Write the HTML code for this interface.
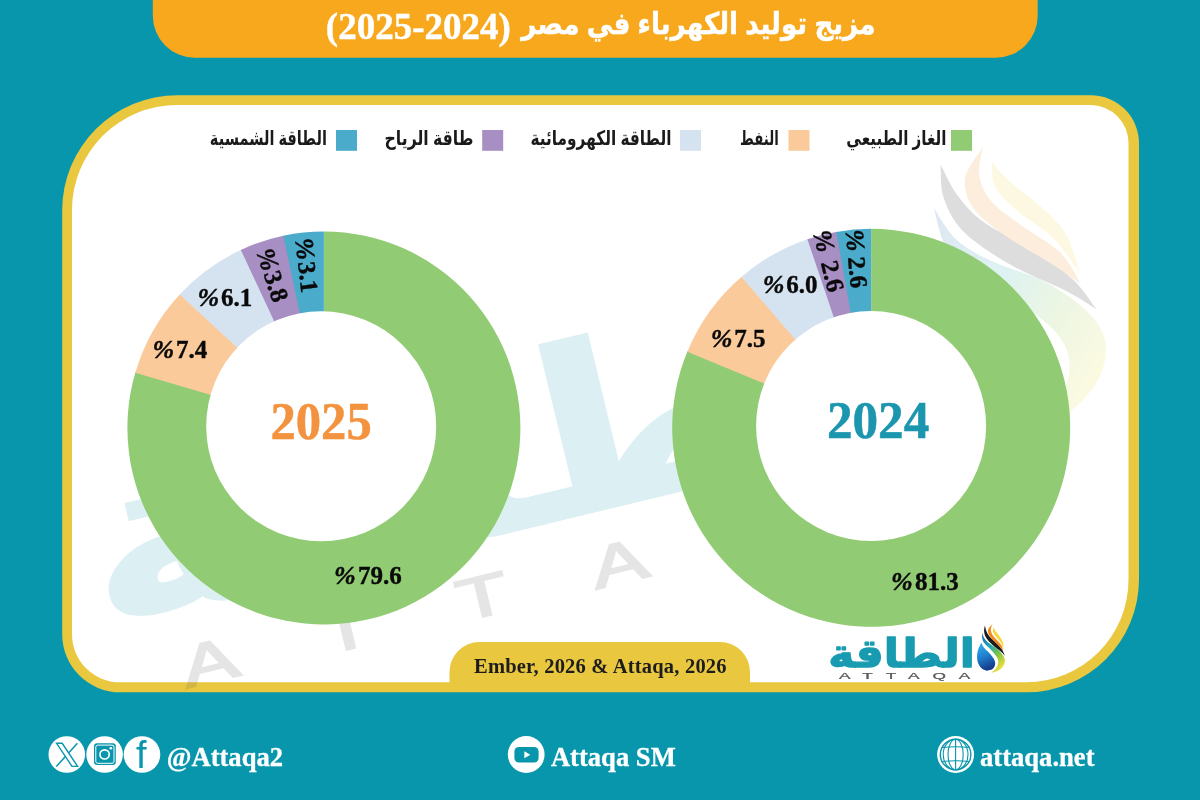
<!DOCTYPE html>
<html lang="ar"><head><meta charset="utf-8"><title>مزيج توليد الكهرباء في مصر (2024-2025)</title>
<style>html,body{margin:0;padding:0;background:#0896AC;width:1200px;height:800px;overflow:hidden}svg{display:block}</style></head>
<body>
<svg width="1200" height="800" viewBox="0 0 1200 800">
<defs>
<linearGradient id="gdrop" x1="0" y1="0" x2="0.3" y2="1"><stop offset="0" stop-color="#35B3EE"/><stop offset="0.55" stop-color="#1F7FD0"/><stop offset="1" stop-color="#173E8C"/></linearGradient>
<linearGradient id="gsw" x1="0" y1="0" x2="0.6" y2="1"><stop offset="0" stop-color="#1B5FA8"/><stop offset="0.4" stop-color="#22A9B4"/><stop offset="0.7" stop-color="#7CC344"/><stop offset="1" stop-color="#E8DE3A"/></linearGradient>
</defs>
<rect width="1200" height="800" fill="#0896AC"/>
<path d="M152.8,-50 H1037.7 A0,0 0 0 1 1037.7,-50 V15.799999999999997 A42,42 0 0 1 995.7,57.8 H194.8 A42,42 0 0 1 152.8,15.799999999999997 V-50 A0,0 0 0 1 152.8,-50 Z" fill="#F8A81C"/>
<path d="M177.2,95.3 H1091 A48,48 0 0 1 1139,143.3 V579.3 A113,113 0 0 1 1026,692.3 H120.2 A58,58 0 0 1 62.2,634.3 V210.3 A115,115 0 0 1 177.2,95.3 Z" fill="#E9C83F"/>
<path d="M177,105 H1090.5 A38,38 0 0 1 1128.5,143 V579.8 A102.5,102.5 0 0 1 1026.0,682.3 H120 A48,48 0 0 1 72,634.3 V210 A105,105 0 0 1 177,105 Z" fill="#fff"/>
<g opacity="0.145" transform="translate(209.5,661.8) rotate(-13.6)">
<text transform="scale(1.46,1)" x="0.0 96.2 192.3 288.5 384.7 480.8" y="20.5" text-anchor="middle" font-family="Liberation Sans, sans-serif" font-size="58" fill="#555" stroke="#555" stroke-width="2">ATTAQA</text>
<text transform="translate(364.6,-55.5) scale(1.21,1)" text-anchor="middle" font-family="Liberation Sans, DejaVu Sans, sans-serif" font-weight="bold" font-size="230" fill="#189BB0" stroke="#189BB0" stroke-width="2" stroke-linejoin="round">الطاقة</text>
<g transform="translate(2,-14) scale(5.9) translate(-845,-676)"><path d="M982.07,632.48 C982.14,633.63 981.94,637.43 982.48,639.39 C983.02,641.36 983.77,642.37 985.33,644.27 C986.88,646.17 989.82,648.47 991.83,650.77 C993.83,653.08 996.30,655.92 997.36,658.09 C998.41,660.26 998.55,661.88 998.17,663.78 C997.79,665.68 996.27,667.98 995.08,669.47 C993.89,670.96 991.69,672.18 991.02,672.72 L991.02,672.72 C991.99,672.48 994.95,672.21 996.87,671.26 C998.79,670.31 1001.21,668.69 1002.56,667.03 C1003.92,665.38 1004.89,663.24 1005.00,661.34 C1005.11,659.44 1004.46,657.68 1003.21,655.65 C1001.96,653.62 999.82,651.18 997.52,649.15 C995.22,647.11 991.56,645.22 989.39,643.46 C987.22,641.69 985.73,640.41 984.51,638.58 C983.29,636.75 982.48,633.50 982.07,632.48 Z" fill="url(#gsw)"/><path d="M981.26,642.64 C980.72,643.86 978.71,647.52 978.01,649.96 C977.30,652.40 976.96,654.97 977.03,657.28 C977.10,659.58 977.57,661.88 978.41,663.78 C979.25,665.68 980.65,667.51 982.07,668.66 C983.50,669.81 986.14,670.35 986.95,670.69 L986.95,670.69 C987.90,670.42 991.29,670.08 992.64,669.07 C994.00,668.05 994.81,666.15 995.08,664.59 C995.35,663.04 995.08,661.48 994.27,659.72 C993.46,657.95 991.83,655.92 990.20,654.02 C988.58,652.13 986.00,650.23 984.51,648.33 C983.02,646.44 981.80,643.59 981.26,642.64 Z" fill="url(#gdrop)"/><path d="M984.92,625.57 C984.78,626.52 983.90,629.23 984.11,631.26 C984.31,633.29 984.72,635.46 986.14,637.76 C987.56,640.07 990.20,642.78 992.64,645.08 C995.08,647.38 998.74,649.82 1000.77,651.59 C1002.80,653.35 1004.16,654.97 1004.84,655.65 L1004.84,655.65 C1004.36,654.63 1003.41,651.65 1001.99,649.55 C1000.57,647.45 998.35,645.18 996.30,643.05 C994.25,640.92 991.36,638.75 989.72,636.79 C988.08,634.82 987.26,633.13 986.46,631.26 C985.66,629.39 985.18,626.52 984.92,625.57 Z" fill="#1c1c1c"/><path d="M992.64,624.35 C991.94,625.09 989.09,627.20 988.41,628.82 C987.74,630.45 987.87,632.28 988.58,634.11 C989.28,635.93 990.88,637.76 992.64,639.80 C994.40,641.83 997.38,644.47 999.15,646.30 C1000.91,648.13 1002.53,650.03 1003.21,650.77 L1003.21,650.77 C1002.87,649.80 1002.43,646.92 1001.18,644.92 C999.93,642.91 997.29,640.61 995.73,638.74 C994.17,636.87 992.64,635.35 991.83,633.70 C991.02,632.05 990.72,630.38 990.85,628.82 C990.99,627.26 992.34,625.09 992.64,624.35 Z" fill="#F08A1D"/><path d="M993.46,627.20 C993.39,627.94 992.64,630.11 993.05,631.67 C993.46,633.22 994.65,634.78 995.89,636.54 C997.14,638.31 999.24,640.14 1000.53,642.24 C1001.82,644.34 1003.10,647.99 1003.62,649.15 L1003.62,649.15 C1003.47,647.93 1003.41,644.00 1002.72,641.83 C1002.03,639.66 1000.64,637.90 999.47,636.14 C998.31,634.38 996.73,632.75 995.73,631.26 C994.73,629.77 993.83,627.87 993.46,627.20 Z" fill="#F6D63A"/></g>
</g>
<path d="M479.5,642 H720 A30,30 0 0 1 750,672 V690 A0,0 0 0 1 750,690 H449.5 A0,0 0 0 1 449.5,690 V672 A30,30 0 0 1 479.5,642 Z" fill="#E9C83F"/>
<path d="M323.9,428 L323.90,231.50 A196.5,196.5 0 1 1 135.59,371.86 Z" fill="#91CB74"/>
<path d="M323.9,428 L135.30,372.85 A196.5,196.5 0 0 1 180.42,293.74 Z" fill="#FBCA9B"/>
<path d="M323.9,428 L179.72,294.49 A196.5,196.5 0 0 1 241.79,249.48 Z" fill="#D5E3F1"/>
<path d="M323.9,428 L240.86,249.91 A196.5,196.5 0 0 1 284.39,235.51 Z" fill="#A78EC3"/>
<path d="M323.9,428 L283.38,235.72 A196.5,196.5 0 0 1 323.90,231.50 Z" fill="#4AABCB"/>
<circle cx="321.2" cy="426.2" r="115" fill="#fff"/>
<path d="M871.2,427.8 L871.20,228.80 A199,199 0 1 1 687.75,350.68 Z" fill="#91CB74"/>
<path d="M871.2,427.8 L687.35,351.65 A199,199 0 0 1 742.22,276.25 Z" fill="#FBCA9B"/>
<path d="M871.2,427.8 L741.43,276.93 A199,199 0 0 1 808.39,238.97 Z" fill="#D5E3F1"/>
<path d="M871.2,427.8 L807.40,239.31 A199,199 0 0 1 837.33,231.70 Z" fill="#A78EC3"/>
<path d="M871.2,427.8 L836.30,231.88 A199,199 0 0 1 871.20,228.80 Z" fill="#4AABCB"/>
<circle cx="871.1" cy="426" r="115" fill="#fff"/>
<text transform="translate(321.1,438.6) scale(0.975,1)" text-anchor="middle" font-family="Liberation Serif, serif" font-weight="bold" font-size="52" fill="#F3933F" stroke="#F3933F" stroke-width="0.5">2025</text>
<text transform="translate(878.1,438.3) scale(0.985,1)" text-anchor="middle" font-family="Liberation Serif, serif" font-weight="bold" font-size="52" fill="#1B96AE" stroke="#1B96AE" stroke-width="0.5">2024</text>
<text y="358" font-family="Liberation Serif, serif" font-weight="bold" font-size="25" fill="#0a0a0a" stroke="#0a0a0a" stroke-width="0.4"><tspan x="152.5" font-style="italic" font-size="26">%</tspan><tspan x="176.0">7.4</tspan></text>
<text y="306" font-family="Liberation Serif, serif" font-weight="bold" font-size="25" fill="#0a0a0a" stroke="#0a0a0a" stroke-width="0.4"><tspan x="197.5" font-style="italic" font-size="26">%</tspan><tspan x="221.0">6.1</tspan></text>
<text y="584" font-family="Liberation Serif, serif" font-weight="bold" font-size="25" fill="#0a0a0a" stroke="#0a0a0a" stroke-width="0.4"><tspan x="334.0" font-style="italic" font-size="26">%</tspan><tspan x="358.0">79.6</tspan></text>
<g transform="translate(273,276) rotate(72)"><text y="8.5" font-family="Liberation Serif, serif" font-weight="bold" font-size="25" fill="#0a0a0a" stroke="#0a0a0a" stroke-width="0.4"><tspan x="-28.4" font-style="italic" font-size="26">%</tspan><tspan x="-4.9">3.8</tspan></text></g>
<g transform="translate(307,266.3) rotate(83.5)"><text y="8.5" font-family="Liberation Serif, serif" font-weight="bold" font-size="25" fill="#0a0a0a" stroke="#0a0a0a" stroke-width="0.4"><tspan x="-28.4" font-style="italic" font-size="26">%</tspan><tspan x="-4.9">3.1</tspan></text></g>
<text y="346.5" font-family="Liberation Serif, serif" font-weight="bold" font-size="25" fill="#0a0a0a" stroke="#0a0a0a" stroke-width="0.4"><tspan x="710.8" font-style="italic" font-size="26">%</tspan><tspan x="734.3">7.5</tspan></text>
<text y="293.2" font-family="Liberation Serif, serif" font-weight="bold" font-size="25" fill="#0a0a0a" stroke="#0a0a0a" stroke-width="0.4"><tspan x="762.7" font-style="italic" font-size="26">%</tspan><tspan x="786.2">6.0</tspan></text>
<text y="590" font-family="Liberation Serif, serif" font-weight="bold" font-size="25" fill="#0a0a0a" stroke="#0a0a0a" stroke-width="0.4"><tspan x="891.0" font-style="italic" font-size="26">%</tspan><tspan x="915.0">81.3</tspan></text>
<g transform="translate(830.1,265.7) rotate(76)"><text y="8.5" font-family="Liberation Serif, serif" font-weight="bold" font-size="25" fill="#0a0a0a" stroke="#0a0a0a" stroke-width="0.4"><tspan x="-36.4" font-style="italic" font-size="26">%</tspan><tspan x="-4.9">2.6</tspan></text></g>
<g transform="translate(857,261.7) rotate(85)"><text y="8.5" font-family="Liberation Serif, serif" font-weight="bold" font-size="25" fill="#0a0a0a" stroke="#0a0a0a" stroke-width="0.4"><tspan x="-32.4" font-style="italic" font-size="26">%</tspan><tspan x="-4.9">2.6</tspan></text></g>
<rect x="336" y="130" width="21" height="20.8" fill="#4AABCB"/>
<rect x="482.2" y="130" width="21" height="20.8" fill="#A78EC3"/>
<rect x="680" y="130" width="21" height="20.8" fill="#D5E3F1"/>
<rect x="788.5" y="130" width="21" height="20.8" fill="#FBCA9B"/>
<rect x="951" y="130" width="21" height="20.8" fill="#91CB74"/>
<text transform="translate(268.4,145.4) scale(0.728,1)" text-anchor="middle" font-family="Liberation Sans, DejaVu Sans, sans-serif" font-weight="bold" font-size="20" fill="#1a1a1a" >الطاقة الشمسية</text>
<text transform="translate(429.0,145.4) scale(0.784,1)" text-anchor="middle" font-family="Liberation Sans, DejaVu Sans, sans-serif" font-weight="bold" font-size="20" fill="#1a1a1a" >طاقة الرياح</text>
<text transform="translate(601.0,145.4) scale(0.767,1)" text-anchor="middle" font-family="Liberation Sans, DejaVu Sans, sans-serif" font-weight="bold" font-size="20" fill="#1a1a1a" >الطاقة الكهرومائية</text>
<text transform="translate(759.4,145.4) scale(0.665,1)" text-anchor="middle" font-family="Liberation Sans, DejaVu Sans, sans-serif" font-weight="bold" font-size="20" fill="#1a1a1a" >النفط</text>
<text transform="translate(896.4,145.4) scale(0.760,1)" text-anchor="middle" font-family="Liberation Sans, DejaVu Sans, sans-serif" font-weight="bold" font-size="20" fill="#1a1a1a" >الغاز الطبيعي</text>
<text transform="translate(698.4,34) scale(0.872,1)" text-anchor="middle" font-family="Liberation Sans, DejaVu Sans, sans-serif" font-weight="bold" font-size="30" fill="#fff" stroke="#fff" stroke-width="0.5">مزيج توليد الكهرباء في مصر</text>
<text x="418.3" y="39.4" text-anchor="middle" font-family="Liberation Serif, serif" font-weight="bold" font-size="37" fill="#fff" stroke="#fff" stroke-width="0.4">(2025-2024)</text>
<text x="600.3" y="673" text-anchor="middle" font-family="Liberation Serif, serif" font-weight="bold" font-size="20.5" fill="#1d1d1d" textLength="252.5" lengthAdjust="spacing">Ember, 2026 &amp; Attaqa, 2026</text>
<text x="166.7" y="765.6" font-family="Liberation Serif, serif" font-weight="bold" font-size="26.6" fill="#fff" stroke="#fff" stroke-width="0.3">@Attaqa2</text>
<text x="550.9" y="765.6" font-family="Liberation Serif, serif" font-weight="bold" font-size="26.6" fill="#fff" stroke="#fff" stroke-width="0.3">Attaqa SM</text>
<text x="980" y="765.6" font-family="Liberation Serif, serif" font-weight="bold" font-size="26.6" fill="#fff" stroke="#fff" stroke-width="0.3">attaqa.net</text>
<circle cx="66.8" cy="754.5" r="18.3" fill="#fff"/>
<path d="M77.4,743.2 L56.3,766.6" stroke="#0896AC" stroke-width="1.5" fill="none"/>
<path d="M56.6,743.3 H62.2 L77.6,766.4 H72 Z" stroke="#0896AC" stroke-width="1.4" fill="#fff" stroke-linejoin="miter"/>
<circle cx="104.6" cy="754.5" r="18.3" fill="#fff"/>
<rect x="94" y="743.3" width="21.8" height="21.8" rx="3" fill="#0896AC"/>
<rect x="95.8" y="745.1" width="18.2" height="18.2" rx="2" fill="none" stroke="#fff" stroke-width="1"/>
<circle cx="104.6" cy="754.4" r="4.6" fill="none" stroke="#fff" stroke-width="1.7"/>
<circle cx="110.8" cy="748.2" r="1.3" fill="#fff"/>
<circle cx="142" cy="754.5" r="18.3" fill="#fff"/>
<text x="141.3" y="767.5" text-anchor="middle" font-family="Liberation Sans, sans-serif" font-size="38" fill="#0896AC">f</text>
<circle cx="526.2" cy="754.5" r="18.4" fill="#fff"/>
<rect x="514.4" y="747" width="24.2" height="15.5" rx="4.5" fill="#0896AC"/>
<path d="M524.3,751.3 L530.4,754.8 L524.3,758.3 Z" fill="#fff"/>
<circle cx="955.6" cy="754.5" r="18.5" fill="#fff"/>
<g fill="none" stroke="#0896AC" stroke-width="1.1"><circle cx="955.6" cy="754.5" r="15.3" stroke-width="1.4"/><ellipse cx="955.6" cy="754.5" rx="12.4" ry="15.3"/><ellipse cx="955.6" cy="754.5" rx="7.6" ry="15.3"/><path d="M955.6,739.2 V769.8"/><path d="M942.0,747.5 Q955.6,746.1 969.2,747.5"/><path d="M942.0,761.5 Q955.6,760.1 969.2,761.5"/></g>
<text transform="translate(901.6,666.6) scale(1.13,1)" text-anchor="middle" font-family="Liberation Sans, DejaVu Sans, sans-serif" font-weight="bold" font-size="39" fill="#189BB0" stroke="#189BB0" stroke-width="1.3" stroke-linejoin="round">الطاقة</text>
<text transform="translate(839,679.3) scale(1.8,1)" font-family="Liberation Sans, sans-serif" font-size="9.6" letter-spacing="7.2" fill="#555" stroke="#555" stroke-width="0.25">ATTAQA</text>
<path d="M982.07,632.48 C982.14,633.63 981.94,637.43 982.48,639.39 C983.02,641.36 983.77,642.37 985.33,644.27 C986.88,646.17 989.82,648.47 991.83,650.77 C993.83,653.08 996.30,655.92 997.36,658.09 C998.41,660.26 998.55,661.88 998.17,663.78 C997.79,665.68 996.27,667.98 995.08,669.47 C993.89,670.96 991.69,672.18 991.02,672.72 L991.02,672.72 C991.99,672.48 994.95,672.21 996.87,671.26 C998.79,670.31 1001.21,668.69 1002.56,667.03 C1003.92,665.38 1004.89,663.24 1005.00,661.34 C1005.11,659.44 1004.46,657.68 1003.21,655.65 C1001.96,653.62 999.82,651.18 997.52,649.15 C995.22,647.11 991.56,645.22 989.39,643.46 C987.22,641.69 985.73,640.41 984.51,638.58 C983.29,636.75 982.48,633.50 982.07,632.48 Z" fill="url(#gsw)"/><path d="M981.26,642.64 C980.72,643.86 978.71,647.52 978.01,649.96 C977.30,652.40 976.96,654.97 977.03,657.28 C977.10,659.58 977.57,661.88 978.41,663.78 C979.25,665.68 980.65,667.51 982.07,668.66 C983.50,669.81 986.14,670.35 986.95,670.69 L986.95,670.69 C987.90,670.42 991.29,670.08 992.64,669.07 C994.00,668.05 994.81,666.15 995.08,664.59 C995.35,663.04 995.08,661.48 994.27,659.72 C993.46,657.95 991.83,655.92 990.20,654.02 C988.58,652.13 986.00,650.23 984.51,648.33 C983.02,646.44 981.80,643.59 981.26,642.64 Z" fill="url(#gdrop)"/><path d="M984.92,625.57 C984.78,626.52 983.90,629.23 984.11,631.26 C984.31,633.29 984.72,635.46 986.14,637.76 C987.56,640.07 990.20,642.78 992.64,645.08 C995.08,647.38 998.74,649.82 1000.77,651.59 C1002.80,653.35 1004.16,654.97 1004.84,655.65 L1004.84,655.65 C1004.36,654.63 1003.41,651.65 1001.99,649.55 C1000.57,647.45 998.35,645.18 996.30,643.05 C994.25,640.92 991.36,638.75 989.72,636.79 C988.08,634.82 987.26,633.13 986.46,631.26 C985.66,629.39 985.18,626.52 984.92,625.57 Z" fill="#1c1c1c"/><path d="M992.64,624.35 C991.94,625.09 989.09,627.20 988.41,628.82 C987.74,630.45 987.87,632.28 988.58,634.11 C989.28,635.93 990.88,637.76 992.64,639.80 C994.40,641.83 997.38,644.47 999.15,646.30 C1000.91,648.13 1002.53,650.03 1003.21,650.77 L1003.21,650.77 C1002.87,649.80 1002.43,646.92 1001.18,644.92 C999.93,642.91 997.29,640.61 995.73,638.74 C994.17,636.87 992.64,635.35 991.83,633.70 C991.02,632.05 990.72,630.38 990.85,628.82 C990.99,627.26 992.34,625.09 992.64,624.35 Z" fill="#F08A1D"/><path d="M993.46,627.20 C993.39,627.94 992.64,630.11 993.05,631.67 C993.46,633.22 994.65,634.78 995.89,636.54 C997.14,638.31 999.24,640.14 1000.53,642.24 C1001.82,644.34 1003.10,647.99 1003.62,649.15 L1003.62,649.15 C1003.47,647.93 1003.41,644.00 1002.72,641.83 C1002.03,639.66 1000.64,637.90 999.47,636.14 C998.31,634.38 996.73,632.75 995.73,631.26 C994.73,629.77 993.83,627.87 993.46,627.20 Z" fill="#F6D63A"/>
</svg>
</body></html>
